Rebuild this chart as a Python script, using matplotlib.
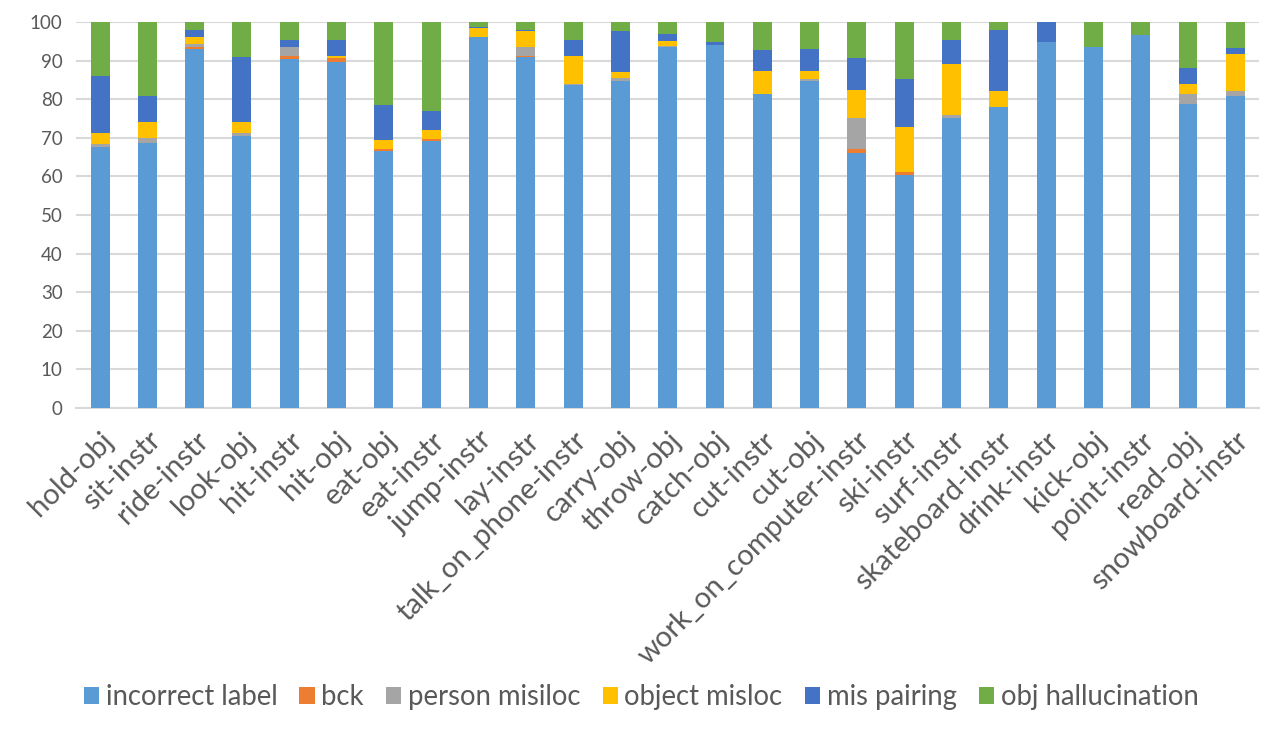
import numpy as np
import matplotlib.pyplot as plt

plt.rcParams['font.family'] = ['Lato', 'DejaVu Sans']

cats = ["hold-obj", "sit-instr", "ride-instr", "look-obj", "hit-instr", "hit-obj",
        "eat-obj", "eat-instr", "jump-instr", "lay-instr", "talk_on_phone-instr",
        "carry-obj", "throw-obj", "catch-obj", "cut-instr", "cut-obj",
        "work_on_computer-instr", "ski-instr", "surf-instr", "skateboard-instr",
        "drink-instr", "kick-obj", "point-instr", "read-obj", "snowboard-instr"]

top_label = [67.5, 68.6, 92.9, 70.4, 90.3, 89.7, 66.6, 69.1, 96.0, 90.9, 83.7,
             84.7, 93.6, 94.0, 81.2, 84.7, 66.1, 60.3, 75.1, 77.9, 94.9, 93.6,
             96.5, 78.7, 80.7]
top_bck = [67.5, 68.6, 93.6, 70.4, 91.1, 90.7, 67.0, 69.6, 96.0, 91.3, 83.7,
           84.7, 93.6, 94.0, 81.2, 84.7, 67.1, 61.1, 75.1, 77.9, 94.9, 93.6,
           96.5, 78.7, 80.7]
top_person = [68.4, 69.9, 94.3, 71.2, 93.4, 90.7, 67.0, 69.6, 96.0, 93.6, 84.0,
              85.4, 93.8, 94.0, 81.4, 85.2, 75.2, 61.1, 75.8, 77.9, 94.9, 93.6,
              96.5, 81.3, 82.0]
top_object = [71.2, 74.0, 96.0, 74.0, 93.4, 91.3, 69.4, 72.1, 98.3, 97.6, 91.1,
              86.9, 95.0, 94.0, 87.2, 87.2, 82.3, 72.7, 89.0, 82.0, 94.9, 93.6,
              96.5, 83.8, 91.8]
top_pair = [85.9, 80.7, 97.9, 90.8, 95.3, 95.4, 78.4, 76.9, 98.8, 98.0, 95.3,
            97.6, 97.0, 94.8, 92.6, 92.9, 90.6, 85.1, 95.2, 97.9, 100.0, 93.6,
            96.5, 88.0, 93.2]
top_all = [100.0] * len(cats)

names = ["incorrect label", "bck", "person misiloc", "object misloc",
         "mis pairing", "obj hallucination"]
colors = ["#5B9BD5", "#ED7D31", "#A5A5A5", "#FFC000", "#4472C4", "#70AD47"]

tops = np.array([top_label, top_bck, top_person, top_object, top_pair, top_all])
heights = np.diff(np.vstack([np.zeros(len(cats)), tops]), axis=0)

fig = plt.figure(figsize=(12.82, 7.31), dpi=100)
ax = fig.add_axes([0.0596, 0.442, 0.9224, 0.528])
x = np.arange(len(cats))
bottom = np.zeros(len(cats))
for h, nm, c in zip(heights, names, colors):
    ax.bar(x, h, 0.4, bottom=bottom, color=c, label=nm, zorder=3)
    bottom = bottom + h

ax.set_xlim(-0.5, len(cats) - 0.5)
ax.set_ylim(0, 100)
ax.set_yticks(range(0, 101, 10))
ax.grid(axis='y', color='#d9d9d9', lw=1.5, zorder=0)
for s in ['top', 'right', 'left']:
    ax.spines[s].set_visible(False)
ax.spines['bottom'].set_color('#d9d9d9')
ax.spines['bottom'].set_linewidth(1.5)
ax.tick_params(length=0, colors='#595959', labelsize=13.5)
ax.tick_params(axis='y', pad=10)
ax.set_xticks(x)
ax.set_xticklabels(cats, rotation=45, ha='right', rotation_mode='anchor',
                   fontsize=21, color='#595959')
ax.tick_params(axis='x', pad=14)

leg = fig.legend(loc='center', bbox_to_anchor=(0.5, 1 - 697 / 731), ncol=6,
                 frameon=False, fontsize=19.8, handlelength=0.55, handleheight=0.55,
                 handletextpad=0.25, columnspacing=0.8)
for t in leg.get_texts():
    t.set_color('#595959')

fig.savefig('out.png', dpi=100)
